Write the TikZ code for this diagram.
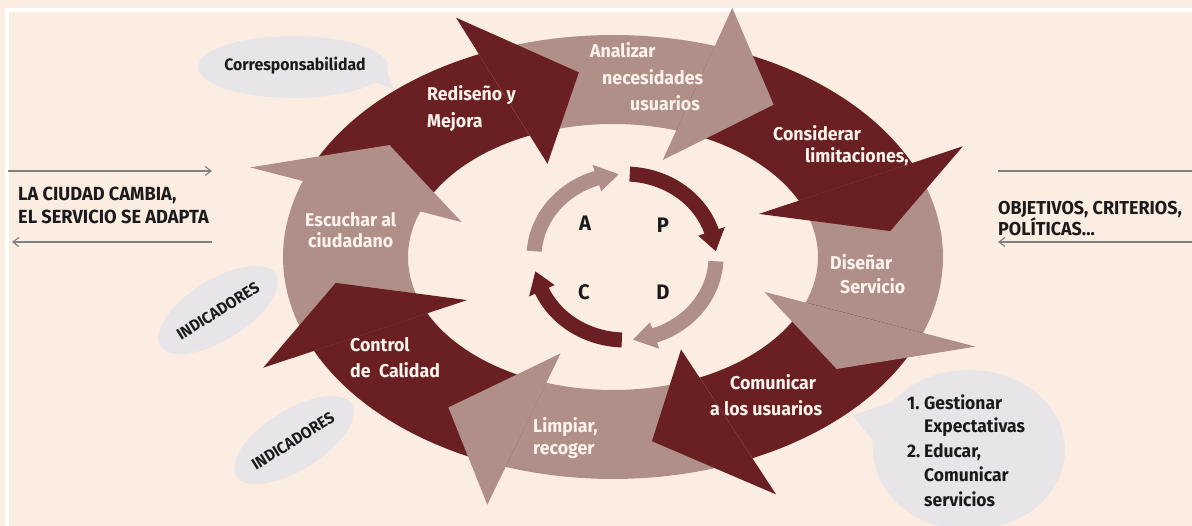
\documentclass[tikz,border=0pt]{standalone}
\usepackage{fontspec}
\setmainfont{Fira Sans}[FakeStretch=0.96]
\usetikzlibrary{arrows.meta,shapes.geometric}
\definecolor{bg}{HTML}{FCEDE2}
\definecolor{darkr}{HTML}{6A2022}
\definecolor{lightr}{HTML}{B18F89}
\definecolor{bub}{HTML}{E7E5E8}
\definecolor{wtxt}{HTML}{FFF4EC}
\definecolor{ink}{HTML}{1C1A1A}
\definecolor{lin}{HTML}{808080}
\newcommand{\ringbody}[3]{%
  \fill[#1] plot[domain=#2:#3-3,samples=40] ({613+330*cos(\x)},{257-222*sin(\x)})
   -- plot[domain=#3-3:#2,samples=40] ({613+205*cos(\x)},{257-133*sin(\x)}) -- cycle;}
\newcommand{\ringhead}[2]{%
  \fill[#1] ({613+386*cos(#2)},{257-262*sin(#2)})
   -- ({613+280*cos(#2-17)},{257-186*sin(#2-17)})
   -- ({613+161*cos(#2)},{257-102*sin(#2)}) -- cycle;}
\newcommand{\pdcarrow}[3]{%
  \fill[#1] plot[domain=#2:#3+14,samples=30] ({625+98.5*cos(\x)},{257-90.5*sin(\x)})
   -- ({625+105*cos(#3+14)},{257-97*sin(#3+14)})
   -- ({625+91*cos(#3)},{257-83*sin(#3)})
   -- ({625+77*cos(#3+14)},{257-69*sin(#3+14)})
   -- plot[domain=#3+14:#2,samples=30] ({625+83.5*cos(\x)},{257-75.5*sin(\x)}) -- cycle;}
\tikzset{
  wt/.style={text=wtxt, font=\fontsize{18.5}{22}\selectfont\bfseries, anchor=base west, inner sep=0pt},
  bt/.style={text=ink, font=\fontsize{19}{22}\selectfont\bfseries, anchor=base west, inner sep=0pt},
  rbt/.style={text=ink, font=\fontsize{18.7}{22}\selectfont\bfseries, anchor=base west, inner sep=0pt},
  lt/.style={text=ink, font=\fontsize{18.2}{22}\selectfont\bfseries, anchor=base west, inner sep=0pt},
  pd/.style={text=ink, font=\fontsize{21}{22}\selectfont\bfseries, inner sep=0pt},
  bubble/.style={ellipse, fill=bub, inner sep=0pt},
  indbub/.style={bubble, rotate=32, minimum width=136pt, minimum height=60pt},
  indtxt/.style={rotate=32, inner sep=0pt, text=ink, font=\fontsize{16}{18}\selectfont\bfseries},
  thin arrow/.style={draw=lin, line width=1.1pt, -{Straight Barb[length=6pt,width=9pt]}}
}
\begin{document}
\begin{tikzpicture}[x=1pt,y=-1pt]
\useasboundingbox (0,0) rectangle (1192,526);
\fill[bg] (0,0) rectangle (1192,526);
\fill[white] (5,8) rectangle (1192,12);
\fill[white] (5,8) rectangle (9,526);

% bubbles
\node[bubble, minimum width=190pt, minimum height=62pt] (cb) at (293,67) {};
\fill[bub] (374,82) -- (394,89) -- (385,68) -- cycle;
\node[indbub] (ib1) at (218,310) {};
\node[indbub] (ib2) at (294,440) {};
\node[bubble, minimum width=192pt, minimum height=160pt] (lb) at (969,450) {};
\fill[bub] (892,402) -- (853,415) -- (878,448) -- cycle;

% ring bodies
\ringbody{darkr}{160}{114}
\ringbody{lightr}{114}{72}
\ringbody{darkr}{72}{25}
\ringbody{lightr}{25}{-20}
\ringbody{darkr}{-20}{-65}
\ringbody{lightr}{-65}{-109}
\ringbody{darkr}{-109}{-155}
\ringbody{lightr}{-155}{-200}
% ring heads
\ringhead{darkr}{114}
\ringhead{lightr}{72}
\ringhead{darkr}{25}
\ringhead{lightr}{-20}
\ringhead{darkr}{-65}
\ringhead{lightr}{-109}
\ringhead{darkr}{-155}
\ringhead{lightr}{-200}

% PDCA
\pdcarrow{darkr}{87}{4}
\pdcarrow{lightr}{-3}{-85}
\pdcarrow{darkr}{-92}{-170}
\pdcarrow{lightr}{176}{94}
\node[pd] (la) at (585,223) {A};
\node[pd] (lp) at (663,225) {P};
\node[pd] (lc) at (584,292) {C};
\node[pd] (ld) at (663,292) {D};

% arrow labels
\node[wt] (r1) at (427,101) {Rediseño y};
\node[wt] (r2) at (427,128) {Mejora};
\node[wt] (a1) at (590,58) {Analizar};
\node[wt] (a2) at (602,85) {necesidades};
\node[wt] (a3) at (630,111) {usuarios};
\node[wt] (c1) at (773,141) {Considerar};
\node[wt] (c2) at (805,163) {limitaciones,};
\node[wt] (d1) at (830,270) {Diseñar};
\node[wt] (d2) at (840,294) {Servicio};
\node[wt] (m1) at (730,390) {Comunicar};
\node[wt] (m2) at (710,416) {a los usuarios};
\node[wt] (l1) at (533,433) {Limpiar,};
\node[wt] (l2) at (533,455) {recoger};
\node[wt] (q1) at (350,352) {Control};
\node[wt] (q2) at (350,378) {de~ Calidad};
\node[wt] (e1) at (305,227) {Escuchar al};
\node[wt] (e2) at (308,248) {ciudadano};

% black texts
\node[text=ink, font=\fontsize{16.5}{18}\selectfont\bfseries, inner sep=0pt] (ct) at (295,66) {Corresponsabilidad};
\node[indtxt] (it1) at (218,311) {INDICADORES};
\node[indtxt] (it2) at (293,441) {INDICADORES};
\node[bt] (lt1) at (18,201) {LA CIUDAD CAMBIA,};
\node[bt] (lt2) at (18,224) {EL SERVICIO SE ADAPTA};
\node[rbt] (rt1) at (998,215) {OBJETIVOS, CRITERIOS,};
\node[rbt] (rt2) at (998,236) {POLÍTICAS...};
\node[lt] (g1n) at (907,410) {1.};
\node[lt] (g1) at (924,410) {Gestionar};
\node[lt] (g2) at (924,433) {Expectativas};
\node[lt] (g3n) at (907,458) {2.};
\node[lt] (g3) at (924,458) {Educar,};
\node[lt] (g4) at (924,482) {Comunicar};
\node[lt] (g5) at (924,507) {servicios};

% side arrows
\coordinate (la0) at (8,171);
\coordinate (la1) at (212,171);
\coordinate (lb0) at (212,242);
\coordinate (lb1) at (12,242);
\coordinate (ra0) at (998,171);
\coordinate (ra1) at (1192,171);
\coordinate (rb0) at (1192,242);
\coordinate (rb1) at (998,242);
\draw[thin arrow] (la0) -- (la1);
\draw[thin arrow] (lb0) -- (lb1);
\draw[draw=lin, line width=1.1pt] (ra0) -- (ra1);
\draw[thin arrow] (rb0) -- (rb1);
\end{tikzpicture}
\end{document}
